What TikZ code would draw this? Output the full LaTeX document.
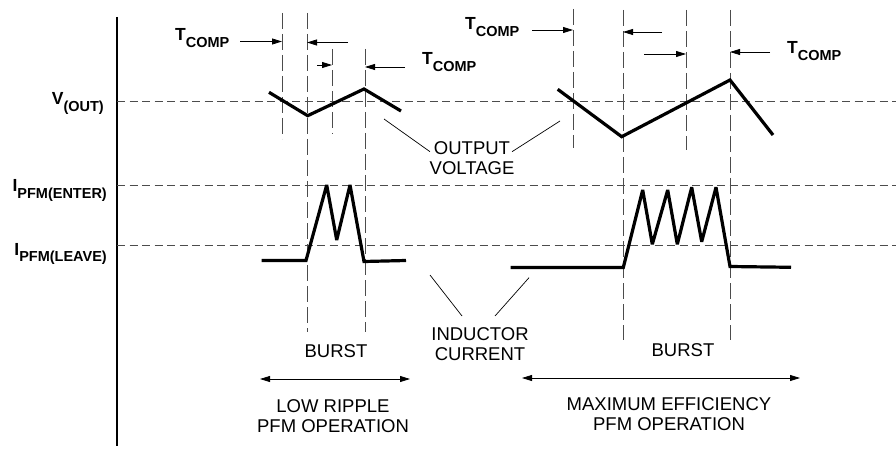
\documentclass[tikz,border=0pt]{standalone}
\usepackage{fontspec}
\setmainfont{Liberation Sans}
\usetikzlibrary{arrows.meta}
\newcommand{\bajo}[1]{\raisebox{-6.5pt}{\fontsize{14.5}{14.5}\selectfont #1}}
\tikzset{
  guia/.style={line width=0.9pt, black!70, dash pattern=on 16pt off 5pt},
  nivel/.style={line width=0.9pt, black!70, dash pattern=on 8pt off 4.5pt},
  onda/.style={line width=3.2pt, line join=miter, miter limit=3},
  flecha/.style={line width=0.8pt, -{Triangle[length=10pt,width=6pt]}},
  flechas/.style={line width=0.8pt, {Triangle[length=10pt,width=6pt]}-{Triangle[length=10pt,width=6pt]}},
  puntero/.style={line width=0.7pt},
  rotulo/.style={font=\bfseries\fontsize{17.5}{17.5}\selectfont, inner sep=0pt},
  texto/.style={font=\fontsize{18.5}{20}\selectfont, align=center, inner sep=0pt}
}
\begin{document}
\begin{tikzpicture}[x=1pt, y=-1pt]
  \useasboundingbox (0,0) rectangle (896,449);
  % el eje y los niveles
  \draw[line width=2.2pt] (117,17) -- (117,446);
  \draw[nivel] (117,101.5) -- (896,101.5);
  \draw[nivel] (117,185) -- (896,185);
  \draw[nivel] (117,245) -- (896,245);
  \node[rotulo, anchor=base east] (vout) at (104,105) {V\bajo{(OUT)}};
  \node[rotulo, anchor=base east] (ientra) at (107,191.5) {I\bajo{PFM(ENTER)}};
  \node[rotulo, anchor=base east] (isale) at (107,255) {I\bajo{PFM(LEAVE)}};
  % las guias verticales
  \draw[guia] (282,13) -- (282,139); \draw[guia] (307,13) -- (307,332);
  \draw[guia] (332,49) -- (332,134); \draw[guia] (365,49) -- (365,332);
  \draw[guia] (573,9) -- (573,148); \draw[guia] (623,10) -- (623,340);
  \draw[guia] (686,10) -- (686,150); \draw[guia] (730,10) -- (730,340);
  % los tiempos de compensacion
  \node[rotulo, anchor=base west] (tcompa) at (175,40.7) {T\bajo{COMP}};
  \node[rotulo, anchor=base west] (tcompb) at (422,65) {T\bajo{COMP}};
  \node[rotulo, anchor=base west] (tcompc) at (465,30) {T\bajo{COMP}};
  \node[rotulo, anchor=base west] (tcompd) at (787,54) {T\bajo{COMP}};
  \draw[flecha] (240,41.5) -- (282,41.5); \draw[flecha] (348,42.5) -- (307,42.5);
  \draw[flecha] (317,65) -- (332,65); \draw[flecha] (405,67) -- (365,67);
  \draw[flecha] (532,30) -- (573,30); \draw[flecha] (662,32) -- (623,32);
  \draw[flecha] (644,54) -- (686,54); \draw[flecha] (770,52) -- (730,52);
  % la tension de salida
  \draw[onda] (269,92.3) -- (307.7,115.7) -- (364,89) -- (401,111);
  \draw[onda] (557.7,89.3) -- (621.7,136.7) -- (730,80) -- (773,135);
  \node[texto, anchor=base] (salida) at (472,175) {OUTPUT\\VOLTAGE};
  \draw[puntero] (384,119) -- (430,151.7); \draw[puntero] (560,121) -- (512,151.7);
  % la corriente en la bobina
  \draw[onda] (261.7,260.5) -- (306,260.5) -- (326.7,185) -- (336.7,240) -- (350,185)
    -- (364,261.5) -- (406,260.5);
  \draw[onda] (510.7,267.5) -- (623.3,267.5) -- (642.7,190) -- (652.3,244.3) -- (667.7,190)
    -- (677.3,244.3) -- (691.7,187.3) -- (701.7,241.7) -- (716,187.3) -- (730,266.5) -- (791,267.3);
  \node[texto, anchor=base] (bobina) at (480,360) {INDUCTOR\\CURRENT};
  \draw[puntero] (430,275) -- (462,316); \draw[puntero] (529,277.7) -- (495,316);
  % las rafagas y los modos
  \node[texto, anchor=base] (rafagaa) at (336,357) {BURST};
  \node[texto, anchor=base] (rafagab) at (683,356.5) {BURST};
  \draw[flechas] (260,379) -- (410,379);
  \draw[flechas] (522,378) -- (800,378);
  \node[texto, anchor=base] (rizado) at (333,432.7) {LOW RIPPLE\\PFM OPERATION};
  \node[texto, anchor=base] (eficiencia) at (669,430) {MAXIMUM EFFICIENCY\\PFM OPERATION};
\end{tikzpicture}
\end{document}
